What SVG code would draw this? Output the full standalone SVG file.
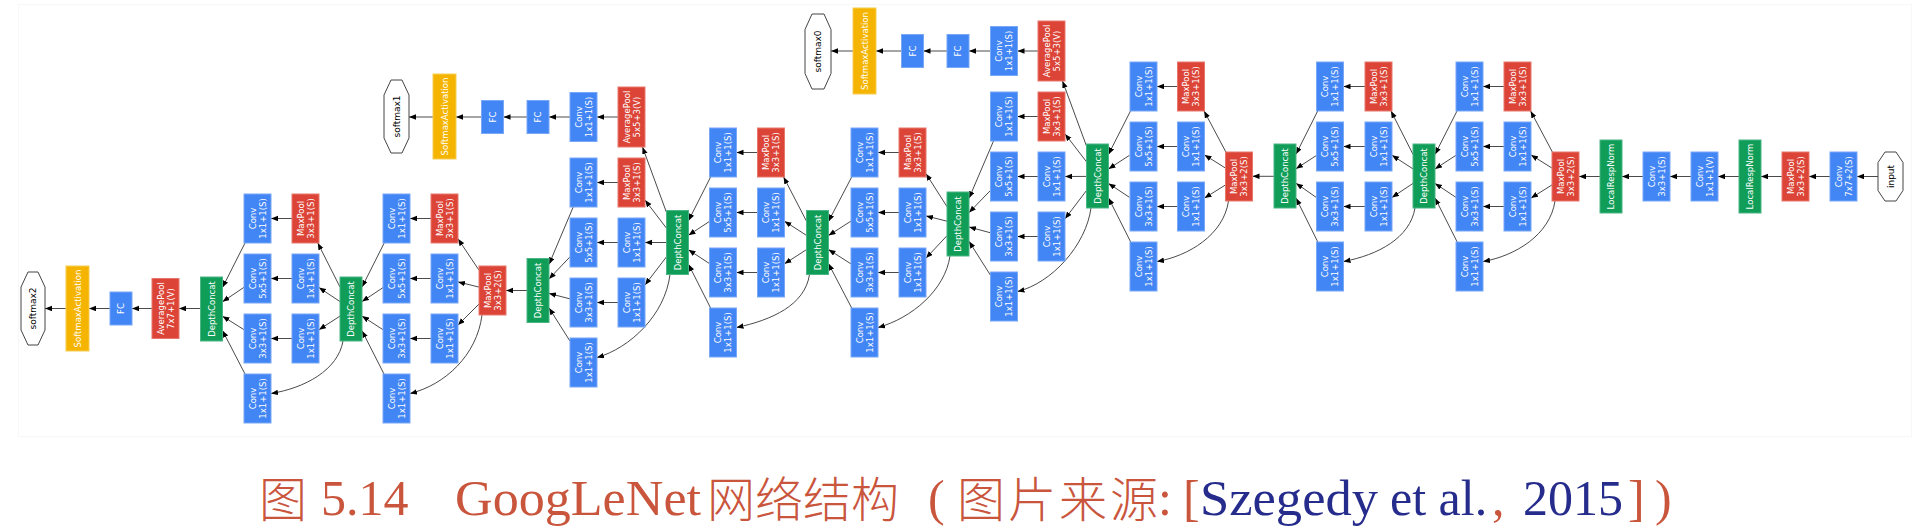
<svg xmlns="http://www.w3.org/2000/svg" width="1920" height="532" viewBox="0 0 1920 532">
<style>
.conv rect{fill:#4285f4;stroke:#79a8f7;stroke-width:1}
.pool rect{fill:#db4437;stroke:#e8786d;stroke-width:1}
.cat rect{fill:#0f9d58;stroke:#4cb585;stroke-width:1}
.act rect{fill:#f4b400;stroke:#f8cd55;stroke-width:1}
.node text{font-family:"DejaVu Sans",Verdana,sans-serif;font-size:8.5px;fill:#ffffff;text-anchor:middle}
.oct polygon{fill:#ffffff;stroke:#444444;stroke-width:1}
.oct text{font-family:"DejaVu Sans",Verdana,sans-serif;font-size:9px;fill:#000000;text-anchor:middle}
#edges path{fill:none;stroke:#4a4a4a;stroke-width:1;marker-end:url(#ah)}
.cap{font-family:"Liberation Serif","Noto Sans CJK SC",serif;font-size:50px;fill:#c9553c}
.cjk{font-family:"Noto Sans CJK SC","Liberation Serif",sans-serif;font-size:48px;fill:#c9553c;font-weight:300}
.blue{fill:#262c8c}
</style>
<defs>
<marker id="ah" markerUnits="userSpaceOnUse" markerWidth="8" markerHeight="6" refX="7" refY="2.75" orient="auto"><path d="M0,0 L7,2.75 L0,5.5 z" fill="#000000"/></marker>
</defs>
<rect x="0" y="0" width="1920" height="532" fill="#ffffff"/>
<rect x="18.5" y="4.5" width="1893" height="432" fill="none" stroke="#f7f7f7"/>

<g id="edges">
<path d="M1878,176.5 H1857"/>
<path d="M1830,176.5 H1809"/>
<path d="M1782,176.5 H1761"/>
<path d="M1739,176.5 H1718"/>
<path d="M1691,176.5 H1670"/>
<path d="M1643,176.5 H1622"/>
<path d="M1600,176.5 H1579"/>
<path d="M1552.4,152 L1530.6,111"/>
<path d="M1552,168.1 L1531,154.9"/>
<path d="M1552,184.9 L1531,198.1"/>
<path d="M1555,201 C1550,235 1515,256 1483,261.5"/>
<path d="M1504,86.5 H1483"/>
<path d="M1504,146.5 H1483"/>
<path d="M1504,206.5 H1483"/>
<path d="M1457,111 L1435,154.4"/>
<path d="M1456,155.3 L1435,168.9"/>
<path d="M1456,197.4 L1435,183.4"/>
<path d="M1457.2,242 L1435,197.9"/>
<path d="M1413,154.4 L1391,111"/>
<path d="M1413,168.9 L1392,155.3"/>
<path d="M1413,183.4 L1392,197.4"/>
<path d="M1415,208 C1410,238 1378,255 1343.5,261.5"/>
<path d="M1365,86.5 H1343.5"/>
<path d="M1365,146.5 H1343.5"/>
<path d="M1365,206.5 H1343.5"/>
<path d="M1317.7,111 L1296,154.2"/>
<path d="M1316.5,155.4 L1296,168.8"/>
<path d="M1316.5,197.6 L1296,183.2"/>
<path d="M1317.8,242 L1296,198"/>
<path d="M1274,176.3 H1252.5"/>
<path d="M1225.9,152 L1204.1,111"/>
<path d="M1225.5,168.1 L1204.5,154.9"/>
<path d="M1225.5,184.9 L1204.5,198.1"/>
<path d="M1228.5,201 C1223.5,235 1188.5,256 1157,261.5"/>
<path d="M1177.5,86.5 H1157"/>
<path d="M1177.5,146.5 H1157"/>
<path d="M1177.5,206.5 H1157"/>
<path d="M1130.5,111 L1108.5,154.4"/>
<path d="M1129.5,155.3 L1108.5,168.9"/>
<path d="M1129.5,197.4 L1108.5,183.4"/>
<path d="M1130.7,242 L1108.5,197.9"/>
<path d="M1086.5,146.1 L1062.5,81"/>
<path d="M1086.5,161.8 L1065,133.9"/>
<path d="M1086.5,176.4 L1065,176.5"/>
<path d="M1086.5,190.5 L1065,218.8"/>
<path d="M1091,208 C1086,245 1052,283 1017.5,291.5"/>
<path d="M1038,116.5 H1017.5"/>
<path d="M1038,176.5 H1017.5"/>
<path d="M1038,236.5 H1017.5"/>
<path d="M993.5,141 L969,198.3"/>
<path d="M990.5,190.4 L969,212.6"/>
<path d="M990.5,232.8 L969,227"/>
<path d="M990.5,275.3 L969,241.3"/>
<path d="M1038,51 H1017.5"/>
<path d="M990.5,51 H969"/>
<path d="M947,51 H923.5"/>
<path d="M901.5,51 H876"/>
<path d="M853,51 H831"/>
<path d="M947,206.7 L926,173.7"/>
<path d="M947,221.2 L926,215.9"/>
<path d="M947,235.7 L926,258.1"/>
<path d="M950,256 C945,290 912,318 878,327.5"/>
<path d="M899,152.5 H878"/>
<path d="M899,212.5 H878"/>
<path d="M899,272.5 H878"/>
<path d="M851.7,177 L828.5,221.4"/>
<path d="M851,221.1 L828.5,235.5"/>
<path d="M851,263.9 L828.5,249.5"/>
<path d="M851.7,308 L828.5,263.6"/>
<path d="M806.5,221.2 L783.6,177"/>
<path d="M806.5,235.4 L784.5,221.2"/>
<path d="M806.5,249.6 L784.5,263.8"/>
<path d="M809.5,274.5 C805,305 772,320 736.5,327.5"/>
<path d="M757.5,152.5 H736.5"/>
<path d="M757.5,212.5 H736.5"/>
<path d="M757.5,272.5 H736.5"/>
<path d="M710.6,177 L688.5,220.7"/>
<path d="M709.5,221.4 L688.5,235.2"/>
<path d="M709.5,263.6 L688.5,249.8"/>
<path d="M710.6,308 L688.5,264.3"/>
<path d="M666.5,212.5 L642.5,147"/>
<path d="M666.5,228.2 L645,200.1"/>
<path d="M666.5,242.5 H645"/>
<path d="M666.5,256.8 L645,284.9"/>
<path d="M670,274.5 C665,315 630,348 597,357.5"/>
<path d="M618,182.5 H597"/>
<path d="M618,242.5 H597"/>
<path d="M618,302.5 H597"/>
<path d="M573.2,207 L549,264.4"/>
<path d="M570,256.8 L549,278.9"/>
<path d="M570,298.9 L549,293.4"/>
<path d="M570,341.1 L549,307.9"/>
<path d="M618,117 H597"/>
<path d="M570,117 H549"/>
<path d="M527,117 H503.5"/>
<path d="M481.5,117 H456"/>
<path d="M433,117 H409"/>
<path d="M527,290.5 H506"/>
<path d="M479,270.2 L458,238.8"/>
<path d="M479,287.1 L458,281.9"/>
<path d="M479,304 L458,325"/>
<path d="M482,315 C477,355 445,385 410,393.5"/>
<path d="M431,218.5 H410"/>
<path d="M431,278.5 H410"/>
<path d="M431,338.5 H410"/>
<path d="M384.2,243 L362,287.1"/>
<path d="M383,287.6 L362,301.6"/>
<path d="M383,329.7 L362,316.1"/>
<path d="M384,374 L362,330.7"/>
<path d="M340,287.1 L317.8,243"/>
<path d="M340,301.6 L319,287.6"/>
<path d="M340,316.1 L319,329.7"/>
<path d="M343,341 C338,370 305,388 271,393.5"/>
<path d="M292,218.5 H271"/>
<path d="M292,278.5 H271"/>
<path d="M292,338.5 H271"/>
<path d="M245,243 L222.5,287.5"/>
<path d="M244,287.3 L222.5,301.8"/>
<path d="M244,329.7 L222.5,316.2"/>
<path d="M245,374 L222.5,330.5"/>
<path d="M200.5,308.5 H179"/>
<path d="M152,308.5 H132"/>
<path d="M110,308.5 H89"/>
<path d="M66,308.5 H45"/>
</g>

<g id="input" class="oct"><polygon points="1885,152 1896,152 1903,162.5 1903,190.5 1896,201 1885,201 1878,190.5 1878,162.5"/><text transform="translate(1890.5,176.5) rotate(-90)" y="3">input</text></g>
<g id="conv1" class="node conv"><rect x="1830" y="152" width="27" height="49"/><text transform="translate(1843.5,176.5) rotate(-90)"><tspan x="0" y="-2">Conv</tspan><tspan x="0" y="8">7x7+2(S)</tspan></text></g>
<g id="pool1" class="node pool"><rect x="1782" y="152" width="27" height="49"/><text transform="translate(1795.5,176.5) rotate(-90)"><tspan x="0" y="-2">MaxPool</tspan><tspan x="0" y="8">3x3+2(S)</tspan></text></g>
<g id="lrn1" class="node cat"><rect x="1739" y="140" width="22" height="73"/><text transform="translate(1750,176.5) rotate(-90)" y="3">LocalRespNorm</text></g>
<g id="conv2" class="node conv"><rect x="1691" y="152" width="27" height="49"/><text transform="translate(1704.5,176.5) rotate(-90)"><tspan x="0" y="-2">Conv</tspan><tspan x="0" y="8">1x1+1(V)</tspan></text></g>
<g id="conv3" class="node conv"><rect x="1643" y="152" width="27" height="49"/><text transform="translate(1656.5,176.5) rotate(-90)"><tspan x="0" y="-2">Conv</tspan><tspan x="0" y="8">3x3+1(S)</tspan></text></g>
<g id="lrn2" class="node cat"><rect x="1600" y="140" width="22" height="73"/><text transform="translate(1611,176.5) rotate(-90)" y="3">LocalRespNorm</text></g>
<g id="pool2" class="node pool"><rect x="1552" y="152" width="27" height="49"/><text transform="translate(1565.5,176.5) rotate(-90)"><tspan x="0" y="-2">MaxPool</tspan><tspan x="0" y="8">3x3+2(S)</tspan></text></g>

<g id="i3a_pool" class="node pool"><rect x="1504" y="62" width="27" height="49"/><text transform="translate(1517.5,86.5) rotate(-90)"><tspan x="0" y="-2">MaxPool</tspan><tspan x="0" y="8">3x3+1(S)</tspan></text></g>
<g id="i3a_pp" class="node conv"><rect x="1456" y="62" width="27" height="49"/><text transform="translate(1469.5,86.5) rotate(-90)"><tspan x="0" y="-2">Conv</tspan><tspan x="0" y="8">1x1+1(S)</tspan></text></g>
<g id="i3a_r5" class="node conv"><rect x="1504" y="122" width="27" height="49"/><text transform="translate(1517.5,146.5) rotate(-90)"><tspan x="0" y="-2">Conv</tspan><tspan x="0" y="8">1x1+1(S)</tspan></text></g>
<g id="i3a_c5" class="node conv"><rect x="1456" y="122" width="27" height="49"/><text transform="translate(1469.5,146.5) rotate(-90)"><tspan x="0" y="-2">Conv</tspan><tspan x="0" y="8">5x5+1(S)</tspan></text></g>
<g id="i3a_r3" class="node conv"><rect x="1504" y="182" width="27" height="49"/><text transform="translate(1517.5,206.5) rotate(-90)"><tspan x="0" y="-2">Conv</tspan><tspan x="0" y="8">1x1+1(S)</tspan></text></g>
<g id="i3a_c3" class="node conv"><rect x="1456" y="182" width="27" height="49"/><text transform="translate(1469.5,206.5) rotate(-90)"><tspan x="0" y="-2">Conv</tspan><tspan x="0" y="8">3x3+1(S)</tspan></text></g>
<g id="i3a_c1" class="node conv"><rect x="1456" y="242" width="27" height="49"/><text transform="translate(1469.5,266.5) rotate(-90)"><tspan x="0" y="-2">Conv</tspan><tspan x="0" y="8">1x1+1(S)</tspan></text></g>
<g id="i3a_cat" class="node cat"><rect x="1413" y="144" width="22" height="64"/><text transform="translate(1424,176) rotate(-90)" y="3">DepthConcat</text></g>

<g id="i3b_pool" class="node pool"><rect x="1365" y="62" width="27" height="49"/><text transform="translate(1378.5,86.5) rotate(-90)"><tspan x="0" y="-2">MaxPool</tspan><tspan x="0" y="8">3x3+1(S)</tspan></text></g>
<g id="i3b_pp" class="node conv"><rect x="1316.5" y="62" width="27" height="49"/><text transform="translate(1330,86.5) rotate(-90)"><tspan x="0" y="-2">Conv</tspan><tspan x="0" y="8">1x1+1(S)</tspan></text></g>
<g id="i3b_r5" class="node conv"><rect x="1365" y="122" width="27" height="49"/><text transform="translate(1378.5,146.5) rotate(-90)"><tspan x="0" y="-2">Conv</tspan><tspan x="0" y="8">1x1+1(S)</tspan></text></g>
<g id="i3b_c5" class="node conv"><rect x="1316.5" y="122" width="27" height="49"/><text transform="translate(1330,146.5) rotate(-90)"><tspan x="0" y="-2">Conv</tspan><tspan x="0" y="8">5x5+1(S)</tspan></text></g>
<g id="i3b_r3" class="node conv"><rect x="1365" y="182" width="27" height="49"/><text transform="translate(1378.5,206.5) rotate(-90)"><tspan x="0" y="-2">Conv</tspan><tspan x="0" y="8">1x1+1(S)</tspan></text></g>
<g id="i3b_c3" class="node conv"><rect x="1316.5" y="182" width="27" height="49"/><text transform="translate(1330,206.5) rotate(-90)"><tspan x="0" y="-2">Conv</tspan><tspan x="0" y="8">3x3+1(S)</tspan></text></g>
<g id="i3b_c1" class="node conv"><rect x="1316.5" y="242" width="27" height="49"/><text transform="translate(1330,266.5) rotate(-90)"><tspan x="0" y="-2">Conv</tspan><tspan x="0" y="8">1x1+1(S)</tspan></text></g>
<g id="i3b_cat" class="node cat"><rect x="1274" y="144" width="22" height="64"/><text transform="translate(1285,176) rotate(-90)" y="3">DepthConcat</text></g>

<g id="pool3" class="node pool"><rect x="1225.5" y="152" width="27" height="49"/><text transform="translate(1239,176.5) rotate(-90)"><tspan x="0" y="-2">MaxPool</tspan><tspan x="0" y="8">3x3+2(S)</tspan></text></g>

<g id="i4a_pool" class="node pool"><rect x="1177.5" y="62" width="27" height="49"/><text transform="translate(1191,86.5) rotate(-90)"><tspan x="0" y="-2">MaxPool</tspan><tspan x="0" y="8">3x3+1(S)</tspan></text></g>
<g id="i4a_pp" class="node conv"><rect x="1130" y="62" width="27" height="49"/><text transform="translate(1143.5,86.5) rotate(-90)"><tspan x="0" y="-2">Conv</tspan><tspan x="0" y="8">1x1+1(S)</tspan></text></g>
<g id="i4a_r5" class="node conv"><rect x="1177.5" y="122" width="27" height="49"/><text transform="translate(1191,146.5) rotate(-90)"><tspan x="0" y="-2">Conv</tspan><tspan x="0" y="8">1x1+1(S)</tspan></text></g>
<g id="i4a_c5" class="node conv"><rect x="1130" y="122" width="27" height="49"/><text transform="translate(1143.5,146.5) rotate(-90)"><tspan x="0" y="-2">Conv</tspan><tspan x="0" y="8">5x5+1(S)</tspan></text></g>
<g id="i4a_r3" class="node conv"><rect x="1177.5" y="182" width="27" height="49"/><text transform="translate(1191,206.5) rotate(-90)"><tspan x="0" y="-2">Conv</tspan><tspan x="0" y="8">1x1+1(S)</tspan></text></g>
<g id="i4a_c3" class="node conv"><rect x="1130" y="182" width="27" height="49"/><text transform="translate(1143.5,206.5) rotate(-90)"><tspan x="0" y="-2">Conv</tspan><tspan x="0" y="8">3x3+1(S)</tspan></text></g>
<g id="i4a_c1" class="node conv"><rect x="1130" y="242" width="27" height="49"/><text transform="translate(1143.5,266.5) rotate(-90)"><tspan x="0" y="-2">Conv</tspan><tspan x="0" y="8">1x1+1(S)</tspan></text></g>
<g id="i4a_cat" class="node cat"><rect x="1086.5" y="144" width="22" height="64"/><text transform="translate(1097.5,176) rotate(-90)" y="3">DepthConcat</text></g>

<g id="aux0_avg" class="node pool"><rect x="1038" y="21" width="27" height="60"/><text transform="translate(1051.5,51) rotate(-90)"><tspan x="0" y="-2">AveragePool</tspan><tspan x="0" y="8">5x5+3(V)</tspan></text></g>
<g id="aux0_conv" class="node conv"><rect x="990.5" y="26.5" width="27" height="49"/><text transform="translate(1004,51) rotate(-90)"><tspan x="0" y="-2">Conv</tspan><tspan x="0" y="8">1x1+1(S)</tspan></text></g>
<g id="aux0_fc1" class="node conv"><rect x="947" y="34.5" width="22" height="33"/><text transform="translate(958,51) rotate(-90)" y="3">FC</text></g>
<g id="aux0_fc2" class="node conv"><rect x="901.5" y="34.5" width="22" height="33"/><text transform="translate(912.5,51) rotate(-90)" y="3">FC</text></g>
<g id="aux0_act" class="node act"><rect x="853" y="8" width="23" height="86"/><text transform="translate(864.5,51) rotate(-90)" y="3">SoftmaxActivation</text></g>
<g id="softmax0" class="oct"><polygon points="812,14 824,14 831,29.5 831,73.5 824,89 812,89 805,73.5 805,29.5"/><text transform="translate(818,51.5) rotate(-90)" y="3">softmax0</text></g>

<g id="i4b_pool" class="node pool"><rect x="1038" y="92" width="27" height="49"/><text transform="translate(1051.5,116.5) rotate(-90)"><tspan x="0" y="-2">MaxPool</tspan><tspan x="0" y="8">3x3+1(S)</tspan></text></g>
<g id="i4b_pp" class="node conv"><rect x="990.5" y="92" width="27" height="49"/><text transform="translate(1004,116.5) rotate(-90)"><tspan x="0" y="-2">Conv</tspan><tspan x="0" y="8">1x1+1(S)</tspan></text></g>
<g id="i4b_r5" class="node conv"><rect x="1038" y="152" width="27" height="49"/><text transform="translate(1051.5,176.5) rotate(-90)"><tspan x="0" y="-2">Conv</tspan><tspan x="0" y="8">1x1+1(S)</tspan></text></g>
<g id="i4b_c5" class="node conv"><rect x="990.5" y="152" width="27" height="49"/><text transform="translate(1004,176.5) rotate(-90)"><tspan x="0" y="-2">Conv</tspan><tspan x="0" y="8">5x5+1(S)</tspan></text></g>
<g id="i4b_r3" class="node conv"><rect x="1038" y="212" width="27" height="49"/><text transform="translate(1051.5,236.5) rotate(-90)"><tspan x="0" y="-2">Conv</tspan><tspan x="0" y="8">1x1+1(S)</tspan></text></g>
<g id="i4b_c3" class="node conv"><rect x="990.5" y="212" width="27" height="49"/><text transform="translate(1004,236.5) rotate(-90)"><tspan x="0" y="-2">Conv</tspan><tspan x="0" y="8">3x3+1(S)</tspan></text></g>
<g id="i4b_c1" class="node conv"><rect x="990.5" y="272" width="27" height="49"/><text transform="translate(1004,296.5) rotate(-90)"><tspan x="0" y="-2">Conv</tspan><tspan x="0" y="8">1x1+1(S)</tspan></text></g>
<g id="i4b_cat" class="node cat"><rect x="947" y="192" width="22" height="64"/><text transform="translate(958,224) rotate(-90)" y="3">DepthConcat</text></g>

<g id="i4c_pool" class="node pool"><rect x="899" y="128" width="27" height="49"/><text transform="translate(912.5,152.5) rotate(-90)"><tspan x="0" y="-2">MaxPool</tspan><tspan x="0" y="8">3x3+1(S)</tspan></text></g>
<g id="i4c_pp" class="node conv"><rect x="851" y="128" width="27" height="49"/><text transform="translate(864.5,152.5) rotate(-90)"><tspan x="0" y="-2">Conv</tspan><tspan x="0" y="8">1x1+1(S)</tspan></text></g>
<g id="i4c_r5" class="node conv"><rect x="899" y="188" width="27" height="49"/><text transform="translate(912.5,212.5) rotate(-90)"><tspan x="0" y="-2">Conv</tspan><tspan x="0" y="8">1x1+1(S)</tspan></text></g>
<g id="i4c_c5" class="node conv"><rect x="851" y="188" width="27" height="49"/><text transform="translate(864.5,212.5) rotate(-90)"><tspan x="0" y="-2">Conv</tspan><tspan x="0" y="8">5x5+1(S)</tspan></text></g>
<g id="i4c_r3" class="node conv"><rect x="899" y="248" width="27" height="49"/><text transform="translate(912.5,272.5) rotate(-90)"><tspan x="0" y="-2">Conv</tspan><tspan x="0" y="8">1x1+1(S)</tspan></text></g>
<g id="i4c_c3" class="node conv"><rect x="851" y="248" width="27" height="49"/><text transform="translate(864.5,272.5) rotate(-90)"><tspan x="0" y="-2">Conv</tspan><tspan x="0" y="8">3x3+1(S)</tspan></text></g>
<g id="i4c_c1" class="node conv"><rect x="851" y="308" width="27" height="49"/><text transform="translate(864.5,332.5) rotate(-90)"><tspan x="0" y="-2">Conv</tspan><tspan x="0" y="8">1x1+1(S)</tspan></text></g>
<g id="i4c_cat" class="node cat"><rect x="806.5" y="210.5" width="22" height="64"/><text transform="translate(817.5,242.5) rotate(-90)" y="3">DepthConcat</text></g>

<g id="i4d_pool" class="node pool"><rect x="757.5" y="128" width="27" height="49"/><text transform="translate(771,152.5) rotate(-90)"><tspan x="0" y="-2">MaxPool</tspan><tspan x="0" y="8">3x3+1(S)</tspan></text></g>
<g id="i4d_pp" class="node conv"><rect x="709.5" y="128" width="27" height="49"/><text transform="translate(723,152.5) rotate(-90)"><tspan x="0" y="-2">Conv</tspan><tspan x="0" y="8">1x1+1(S)</tspan></text></g>
<g id="i4d_r5" class="node conv"><rect x="757.5" y="188" width="27" height="49"/><text transform="translate(771,212.5) rotate(-90)"><tspan x="0" y="-2">Conv</tspan><tspan x="0" y="8">1x1+1(S)</tspan></text></g>
<g id="i4d_c5" class="node conv"><rect x="709.5" y="188" width="27" height="49"/><text transform="translate(723,212.5) rotate(-90)"><tspan x="0" y="-2">Conv</tspan><tspan x="0" y="8">5x5+1(S)</tspan></text></g>
<g id="i4d_r3" class="node conv"><rect x="757.5" y="248" width="27" height="49"/><text transform="translate(771,272.5) rotate(-90)"><tspan x="0" y="-2">Conv</tspan><tspan x="0" y="8">1x1+1(S)</tspan></text></g>
<g id="i4d_c3" class="node conv"><rect x="709.5" y="248" width="27" height="49"/><text transform="translate(723,272.5) rotate(-90)"><tspan x="0" y="-2">Conv</tspan><tspan x="0" y="8">3x3+1(S)</tspan></text></g>
<g id="i4d_c1" class="node conv"><rect x="709.5" y="308" width="27" height="49"/><text transform="translate(723,332.5) rotate(-90)"><tspan x="0" y="-2">Conv</tspan><tspan x="0" y="8">1x1+1(S)</tspan></text></g>
<g id="i4d_cat" class="node cat"><rect x="666.5" y="210.5" width="22" height="64"/><text transform="translate(677.5,242.5) rotate(-90)" y="3">DepthConcat</text></g>

<g id="aux1_avg" class="node pool"><rect x="618" y="87" width="27" height="60"/><text transform="translate(631.5,117) rotate(-90)"><tspan x="0" y="-2">AveragePool</tspan><tspan x="0" y="8">5x5+3(V)</tspan></text></g>
<g id="aux1_conv" class="node conv"><rect x="570" y="92.5" width="27" height="49"/><text transform="translate(583.5,117) rotate(-90)"><tspan x="0" y="-2">Conv</tspan><tspan x="0" y="8">1x1+1(S)</tspan></text></g>
<g id="aux1_fc1" class="node conv"><rect x="527" y="100.5" width="22" height="33"/><text transform="translate(538,117) rotate(-90)" y="3">FC</text></g>
<g id="aux1_fc2" class="node conv"><rect x="481.5" y="100.5" width="22" height="33"/><text transform="translate(492.5,117) rotate(-90)" y="3">FC</text></g>
<g id="aux1_act" class="node act"><rect x="433" y="74" width="23" height="85"/><text transform="translate(444.5,116.5) rotate(-90)" y="3">SoftmaxActivation</text></g>
<g id="softmax1" class="oct"><polygon points="391,80 402,80 409,95 409,138 402,153 391,153 384,138 384,95"/><text transform="translate(396.5,116.5) rotate(-90)" y="3">softmax1</text></g>

<g id="i4e_pool" class="node pool"><rect x="618" y="158" width="27" height="49"/><text transform="translate(631.5,182.5) rotate(-90)"><tspan x="0" y="-2">MaxPool</tspan><tspan x="0" y="8">3x3+1(S)</tspan></text></g>
<g id="i4e_pp" class="node conv"><rect x="570" y="158" width="27" height="49"/><text transform="translate(583.5,182.5) rotate(-90)"><tspan x="0" y="-2">Conv</tspan><tspan x="0" y="8">1x1+1(S)</tspan></text></g>
<g id="i4e_r5" class="node conv"><rect x="618" y="218" width="27" height="49"/><text transform="translate(631.5,242.5) rotate(-90)"><tspan x="0" y="-2">Conv</tspan><tspan x="0" y="8">1x1+1(S)</tspan></text></g>
<g id="i4e_c5" class="node conv"><rect x="570" y="218" width="27" height="49"/><text transform="translate(583.5,242.5) rotate(-90)"><tspan x="0" y="-2">Conv</tspan><tspan x="0" y="8">5x5+1(S)</tspan></text></g>
<g id="i4e_r3" class="node conv"><rect x="618" y="278" width="27" height="49"/><text transform="translate(631.5,302.5) rotate(-90)"><tspan x="0" y="-2">Conv</tspan><tspan x="0" y="8">1x1+1(S)</tspan></text></g>
<g id="i4e_c3" class="node conv"><rect x="570" y="278" width="27" height="49"/><text transform="translate(583.5,302.5) rotate(-90)"><tspan x="0" y="-2">Conv</tspan><tspan x="0" y="8">3x3+1(S)</tspan></text></g>
<g id="i4e_c1" class="node conv"><rect x="570" y="338" width="27" height="49"/><text transform="translate(583.5,362.5) rotate(-90)"><tspan x="0" y="-2">Conv</tspan><tspan x="0" y="8">1x1+1(S)</tspan></text></g>
<g id="i4e_cat" class="node cat"><rect x="527" y="258.5" width="22" height="64"/><text transform="translate(538,290.5) rotate(-90)" y="3">DepthConcat</text></g>

<g id="pool4" class="node pool"><rect x="479" y="266" width="27" height="49"/><text transform="translate(492.5,290.5) rotate(-90)"><tspan x="0" y="-2">MaxPool</tspan><tspan x="0" y="8">3x3+2(S)</tspan></text></g>

<g id="i5a_pool" class="node pool"><rect x="431" y="194" width="27" height="49"/><text transform="translate(444.5,218.5) rotate(-90)"><tspan x="0" y="-2">MaxPool</tspan><tspan x="0" y="8">3x3+1(S)</tspan></text></g>
<g id="i5a_pp" class="node conv"><rect x="383" y="194" width="27" height="49"/><text transform="translate(396.5,218.5) rotate(-90)"><tspan x="0" y="-2">Conv</tspan><tspan x="0" y="8">1x1+1(S)</tspan></text></g>
<g id="i5a_r5" class="node conv"><rect x="431" y="254" width="27" height="49"/><text transform="translate(444.5,278.5) rotate(-90)"><tspan x="0" y="-2">Conv</tspan><tspan x="0" y="8">1x1+1(S)</tspan></text></g>
<g id="i5a_c5" class="node conv"><rect x="383" y="254" width="27" height="49"/><text transform="translate(396.5,278.5) rotate(-90)"><tspan x="0" y="-2">Conv</tspan><tspan x="0" y="8">5x5+1(S)</tspan></text></g>
<g id="i5a_r3" class="node conv"><rect x="431" y="314" width="27" height="49"/><text transform="translate(444.5,338.5) rotate(-90)"><tspan x="0" y="-2">Conv</tspan><tspan x="0" y="8">1x1+1(S)</tspan></text></g>
<g id="i5a_c3" class="node conv"><rect x="383" y="314" width="27" height="49"/><text transform="translate(396.5,338.5) rotate(-90)"><tspan x="0" y="-2">Conv</tspan><tspan x="0" y="8">3x3+1(S)</tspan></text></g>
<g id="i5a_c1" class="node conv"><rect x="383" y="374" width="27" height="49"/><text transform="translate(396.5,398.5) rotate(-90)"><tspan x="0" y="-2">Conv</tspan><tspan x="0" y="8">1x1+1(S)</tspan></text></g>
<g id="i5a_cat" class="node cat"><rect x="340" y="277" width="22" height="64"/><text transform="translate(351,309) rotate(-90)" y="3">DepthConcat</text></g>

<g id="i5b_pool" class="node pool"><rect x="292" y="194" width="27" height="49"/><text transform="translate(305.5,218.5) rotate(-90)"><tspan x="0" y="-2">MaxPool</tspan><tspan x="0" y="8">3x3+1(S)</tspan></text></g>
<g id="i5b_pp" class="node conv"><rect x="244" y="194" width="27" height="49"/><text transform="translate(257.5,218.5) rotate(-90)"><tspan x="0" y="-2">Conv</tspan><tspan x="0" y="8">1x1+1(S)</tspan></text></g>
<g id="i5b_r5" class="node conv"><rect x="292" y="254" width="27" height="49"/><text transform="translate(305.5,278.5) rotate(-90)"><tspan x="0" y="-2">Conv</tspan><tspan x="0" y="8">1x1+1(S)</tspan></text></g>
<g id="i5b_c5" class="node conv"><rect x="244" y="254" width="27" height="49"/><text transform="translate(257.5,278.5) rotate(-90)"><tspan x="0" y="-2">Conv</tspan><tspan x="0" y="8">5x5+1(S)</tspan></text></g>
<g id="i5b_r3" class="node conv"><rect x="292" y="314" width="27" height="49"/><text transform="translate(305.5,338.5) rotate(-90)"><tspan x="0" y="-2">Conv</tspan><tspan x="0" y="8">1x1+1(S)</tspan></text></g>
<g id="i5b_c3" class="node conv"><rect x="244" y="314" width="27" height="49"/><text transform="translate(257.5,338.5) rotate(-90)"><tspan x="0" y="-2">Conv</tspan><tspan x="0" y="8">3x3+1(S)</tspan></text></g>
<g id="i5b_c1" class="node conv"><rect x="244" y="374" width="27" height="49"/><text transform="translate(257.5,398.5) rotate(-90)"><tspan x="0" y="-2">Conv</tspan><tspan x="0" y="8">1x1+1(S)</tspan></text></g>
<g id="i5b_cat" class="node cat"><rect x="200.5" y="277" width="22" height="64"/><text transform="translate(211.5,309) rotate(-90)" y="3">DepthConcat</text></g>

<g id="avgpool2" class="node pool"><rect x="152" y="278.5" width="27" height="60"/><text transform="translate(165.5,308.5) rotate(-90)"><tspan x="0" y="-2">AveragePool</tspan><tspan x="0" y="8">7x7+1(V)</tspan></text></g>
<g id="fc2" class="node conv"><rect x="110" y="292" width="22" height="33"/><text transform="translate(121,308.5) rotate(-90)" y="3">FC</text></g>
<g id="act2" class="node act"><rect x="66" y="266" width="23" height="85"/><text transform="translate(77.5,308.5) rotate(-90)" y="3">SoftmaxActivation</text></g>
<g id="softmax2" class="oct"><polygon points="28,272 38,272 45,287 45,330 38,345 28,345 21,330 21,287"/><text transform="translate(33,308.5) rotate(-90)" y="3">softmax2</text></g>

<g id="caption">
<text class="cjk" x="259" y="517">图</text>
<text class="cap" x="321" y="515">5.14</text>
<text class="cap" x="455" y="515" textLength="246" lengthAdjust="spacingAndGlyphs">GoogLeNet</text>
<text class="cjk" x="707" y="517">网络结构</text>
<text class="cap" x="928" y="515">(</text>
<text class="cjk" x="957" y="517" letter-spacing="3">图片来源</text>
<text class="cap" x="1158" y="515">:</text>
<text class="cap" x="1183" y="515">[</text>
<text class="cap blue" x="1200" y="515" textLength="178" lengthAdjust="spacingAndGlyphs">Szegedy</text>
<text class="cap blue" x="1390" y="515">et al.</text>
<text class="cap" x="1492" y="515">,</text>
<text class="cap blue" x="1523" y="515">2015</text>
<text class="cap" x="1628" y="515">]</text>
<text class="cap" x="1655" y="515">)</text>
</g>
</svg>
